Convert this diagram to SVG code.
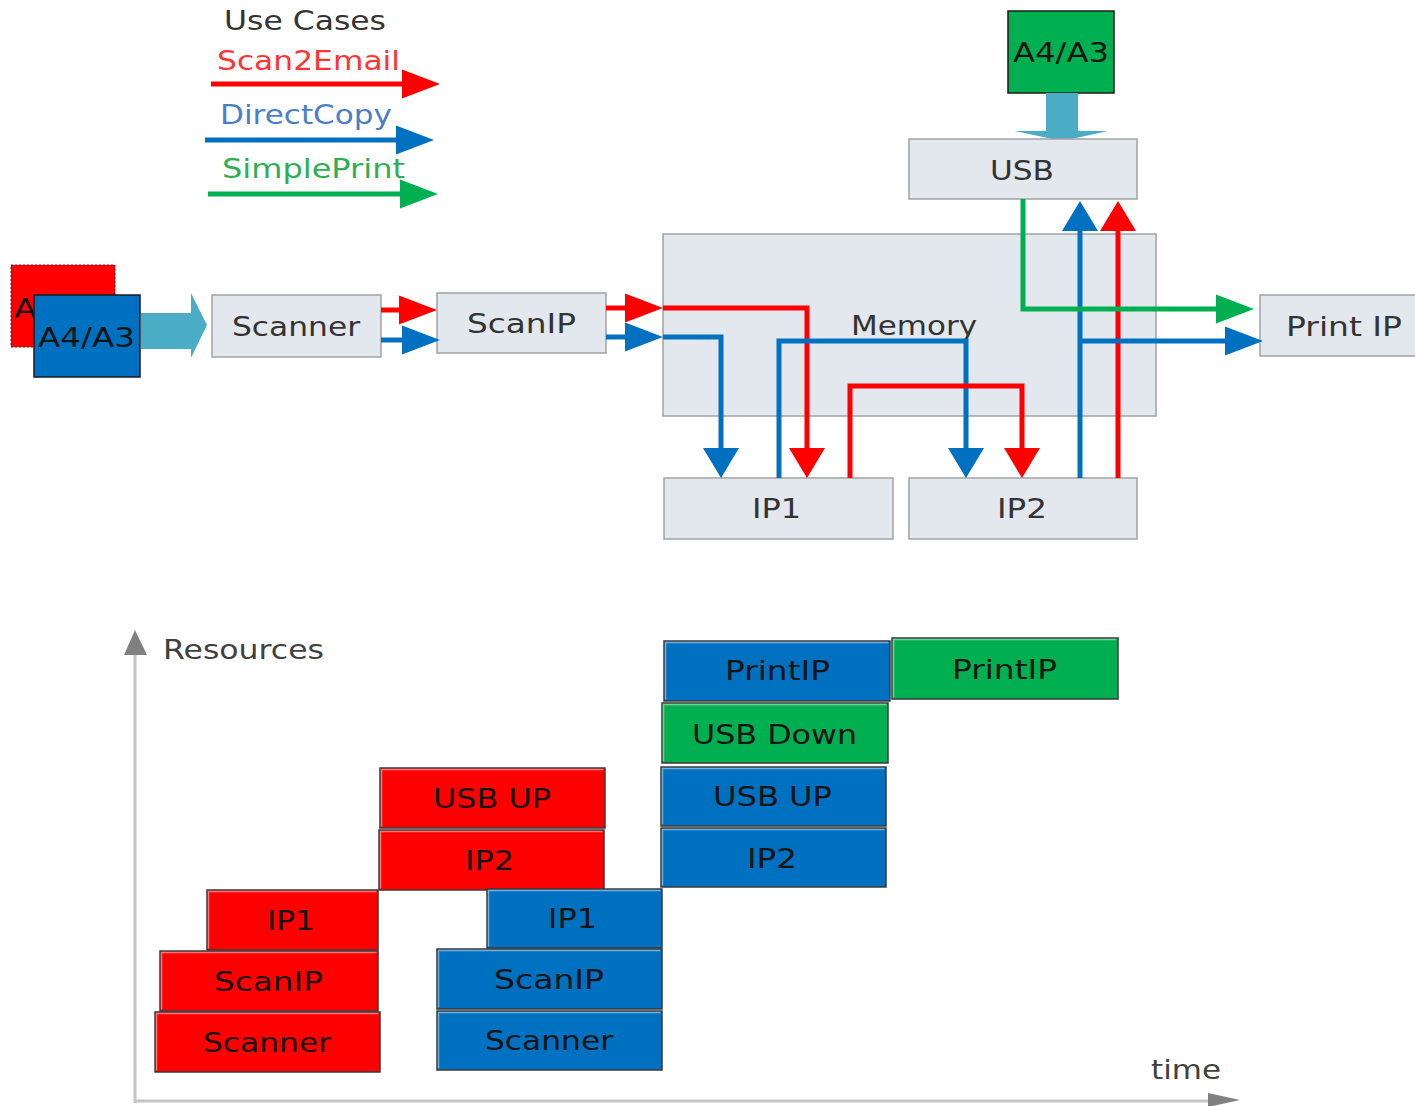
<svg xmlns="http://www.w3.org/2000/svg" width="1415" height="1106" viewBox="0 0 1415 1106">
  <style>
    text { font-family: "DejaVu Sans", Verdana, sans-serif; font-size: 27px; }
    .lbl { fill: #333333; }
    .dark { fill: #141414; }
    .box { fill: #E3E7EE; stroke: #A3A3A3; stroke-width: 1.5; }
    .conn { fill: none; stroke-width: 5; stroke-linejoin: miter; }
    .r { stroke: #FF0000; }
    .b { stroke: #0070C0; }
    .g { stroke: #00B050; }
    .bar { stroke: #3A3A3A; stroke-width: 1.5; }
    .fr { fill: #FF0000; }
    .fb { fill: #0070C0; }
    .fg { fill: #00B050; }
    .hl { fill: none; stroke: #FFFFFF; stroke-opacity: 0.45; stroke-width: 1.5; }
    .teal { fill: #4BACC6; }
  </style>
  <defs>
    <!-- horizontal-run arrowheads -->
    <marker id="hr" markerUnits="userSpaceOnUse" markerWidth="38" markerHeight="29" refX="2" refY="14.5" orient="auto" overflow="visible">
      <path d="M0,0 L38,14.5 L0,29 z" fill="#FF0000"/>
    </marker>
    <marker id="hb" markerUnits="userSpaceOnUse" markerWidth="38" markerHeight="29" refX="2" refY="14.5" orient="auto" overflow="visible">
      <path d="M0,0 L38,14.5 L0,29 z" fill="#0070C0"/>
    </marker>
    <marker id="hg" markerUnits="userSpaceOnUse" markerWidth="38" markerHeight="29" refX="2" refY="14.5" orient="auto" overflow="visible">
      <path d="M0,0 L38,14.5 L0,29 z" fill="#00B050"/>
    </marker>
    <!-- vertical-run arrowheads -->
    <marker id="vr" markerUnits="userSpaceOnUse" markerWidth="30" markerHeight="36" refX="2" refY="18" orient="auto" overflow="visible">
      <path d="M0,0 L30,18 L0,36 z" fill="#FF0000"/>
    </marker>
    <marker id="vb" markerUnits="userSpaceOnUse" markerWidth="30" markerHeight="36" refX="2" refY="18" orient="auto" overflow="visible">
      <path d="M0,0 L30,18 L0,36 z" fill="#0070C0"/>
    </marker>
  </defs>

  <!-- legend -->
  <g id="legend">
    <text class="lbl" x="224" y="30" textLength="162" lengthAdjust="spacingAndGlyphs">Use Cases</text>
    <text x="217" y="70" fill="#FF3535" textLength="183" lengthAdjust="spacingAndGlyphs">Scan2Email</text>
    <path class="conn r" d="M211,84 H404" marker-end="url(#hr)"/>
    <text x="220" y="124" fill="#4A7EC6" textLength="172" lengthAdjust="spacingAndGlyphs">DirectCopy</text>
    <path class="conn b" d="M205,140 H398" marker-end="url(#hb)"/>
    <text x="222" y="178" fill="#2EB052" textLength="183" lengthAdjust="spacingAndGlyphs">SimplePrint</text>
    <path class="conn g" d="M208,194 H402" marker-end="url(#hg)"/>
  </g>

  <!-- paper sources -->
  <g id="paper-red">
    <rect x="11" y="265" width="104" height="82" fill="#FF0000" stroke="#8B0000" stroke-width="1" stroke-dasharray="2,2"/>
    <text class="dark" x="14" y="318" textLength="97" lengthAdjust="spacingAndGlyphs">A4/A3</text>
  </g>
  <g id="paper-blue">
    <rect x="34" y="295" width="106" height="82" fill="#0070C0" stroke="#1A1A1A" stroke-width="1.5"/>
    <text class="dark" x="38" y="347" textLength="97" lengthAdjust="spacingAndGlyphs">A4/A3</text>
  </g>
  <g id="paper-green">
    <rect x="1008" y="11" width="106" height="82" fill="#00B050" stroke="#1A1A1A" stroke-width="1.5"/>
    <text class="dark" x="1013" y="62" textLength="96" lengthAdjust="spacingAndGlyphs">A4/A3</text>
  </g>

  <!-- block arrows feeding paper in -->
  <g id="feed-arrows">
    <polygon class="teal" points="141,313 191,313 191,293 207,325 191,358 191,349 141,349"/>
    <polygon class="teal" points="1046,93 1078,93 1078,131 1108,131 1062,141 1015,131 1046,131"/>
  </g>

  <!-- hardware blocks -->
  <g id="memory">
    <rect class="box" x="663" y="234" width="493" height="182"/>
    <text class="lbl" x="851" y="335" textLength="126" lengthAdjust="spacingAndGlyphs">Memory</text>
  </g>
  <g id="scanner">
    <rect class="box" x="212" y="295" width="169" height="62"/>
    <text class="lbl" x="232" y="336" textLength="128" lengthAdjust="spacingAndGlyphs">Scanner</text>
  </g>
  <g id="scanip">
    <rect class="box" x="437" y="293" width="169" height="60"/>
    <text class="lbl" x="467" y="333" textLength="109" lengthAdjust="spacingAndGlyphs">ScanIP</text>
  </g>
  <g id="usb">
    <rect class="box" x="909" y="139" width="228" height="60"/>
    <text class="lbl" x="990" y="180" textLength="64" lengthAdjust="spacingAndGlyphs">USB</text>
  </g>
  <g id="ip1">
    <rect class="box" x="664" y="478" width="229" height="61"/>
    <text class="lbl" x="752" y="518" textLength="49" lengthAdjust="spacingAndGlyphs">IP1</text>
  </g>
  <g id="ip2">
    <rect class="box" x="909" y="478" width="228" height="61"/>
    <text class="lbl" x="997" y="518" textLength="50" lengthAdjust="spacingAndGlyphs">IP2</text>
  </g>
  <g id="printip">
    <rect class="box" x="1260" y="295" width="170" height="61"/>
    <text class="lbl" x="1286" y="336" textLength="116" lengthAdjust="spacingAndGlyphs">Print IP</text>
  </g>

  <!-- data paths -->
  <g id="connectors">
    <path class="conn r" d="M381,310 H401" marker-end="url(#hr)"/>
    <path class="conn b" d="M381,340 H404" marker-end="url(#hb)"/>
    <path class="conn r" d="M606,308 H627" marker-end="url(#hr)"/>
    <path class="conn b" d="M606,337 H627" marker-end="url(#hb)"/>
    <path class="conn r" d="M663,308 H807 V450" marker-end="url(#vr)"/>
    <path class="conn b" d="M663,337 H721 V450" marker-end="url(#vb)"/>
    <path class="conn b" d="M779,478 V341 H966 V450" marker-end="url(#vb)"/>
    <path class="conn r" d="M850,478 V386 H1022 V450" marker-end="url(#vr)"/>
    <path class="conn b" d="M1080,478 V229" marker-end="url(#vb)"/>
    <path class="conn r" d="M1118,478 V229" marker-end="url(#vr)"/>
    <path class="conn b" d="M1080,341 H1227" marker-end="url(#hb)"/>
    <path class="conn g" d="M1023,199 V309 H1218" marker-end="url(#hg)"/>
  </g>

  <!-- timeline axes -->
  <g id="axes">
    <line x1="135" y1="652" x2="135" y2="1103" stroke="#C4C4C4" stroke-width="3"/>
    <polygon points="124,655 135,630 147,655" fill="#808080"/>
    <line x1="134" y1="1101" x2="1210" y2="1101" stroke="#C4C4C4" stroke-width="3"/>
    <polygon points="1208,1093 1240,1100 1208,1107" fill="#808080"/>
    <text x="163" y="659" fill="#404040" textLength="161" lengthAdjust="spacingAndGlyphs">Resources</text>
    <text x="1151" y="1079" fill="#404040" textLength="70" lengthAdjust="spacingAndGlyphs">time</text>
  </g>

  <!-- Scan2Email resource usage -->
  <g id="bar-red-scanner">
    <rect class="bar fr" x="155" y="1012" width="225" height="60"/>
    <path class="hl" d="M156.5,1070.5 V1013.5 H378.5"/>
    <text class="dark" x="203" y="1052" textLength="128" lengthAdjust="spacingAndGlyphs">Scanner</text>
  </g>
  <g id="bar-red-scanip">
    <rect class="bar fr" x="160" y="951" width="218" height="60"/>
    <path class="hl" d="M161.5,1009.5 V952.5 H376.5"/>
    <text class="dark" x="214" y="991" textLength="109" lengthAdjust="spacingAndGlyphs">ScanIP</text>
  </g>
  <g id="bar-red-ip1">
    <rect class="bar fr" x="207" y="890" width="171" height="60"/>
    <path class="hl" d="M208.5,948.5 V891.5 H376.5"/>
    <text class="dark" x="267" y="930" textLength="48" lengthAdjust="spacingAndGlyphs">IP1</text>
  </g>
  <g id="bar-red-ip2">
    <rect class="bar fr" x="379" y="830" width="225" height="60"/>
    <path class="hl" d="M380.5,888.5 V831.5 H602.5"/>
    <text class="dark" x="465" y="870" textLength="49" lengthAdjust="spacingAndGlyphs">IP2</text>
  </g>
  <g id="bar-red-usbup">
    <rect class="bar fr" x="380" y="768" width="225" height="60"/>
    <path class="hl" d="M381.5,826.5 V769.5 H603.5"/>
    <text class="dark" x="433" y="808" textLength="118" lengthAdjust="spacingAndGlyphs">USB UP</text>
  </g>

  <!-- DirectCopy resource usage -->
  <g id="bar-blue-scanner">
    <rect class="bar fb" x="437" y="1011" width="225" height="59"/>
    <path class="hl" d="M438.5,1068.5 V1012.5 H660.5"/>
    <text class="dark" x="485" y="1050" textLength="128" lengthAdjust="spacingAndGlyphs">Scanner</text>
  </g>
  <g id="bar-blue-scanip">
    <rect class="bar fb" x="437" y="949" width="225" height="60"/>
    <path class="hl" d="M438.5,1007.5 V950.5 H660.5"/>
    <text class="dark" x="494" y="989" textLength="110" lengthAdjust="spacingAndGlyphs">ScanIP</text>
  </g>
  <g id="bar-blue-ip1">
    <rect class="bar fb" x="487" y="889" width="175" height="59"/>
    <path class="hl" d="M488.5,946.5 V890.5 H660.5"/>
    <text class="dark" x="548" y="928" textLength="49" lengthAdjust="spacingAndGlyphs">IP1</text>
  </g>
  <g id="bar-blue-ip2">
    <rect class="bar fb" x="661" y="828" width="225" height="59"/>
    <path class="hl" d="M662.5,885.5 V829.5 H884.5"/>
    <text class="dark" x="747" y="868" textLength="50" lengthAdjust="spacingAndGlyphs">IP2</text>
  </g>
  <g id="bar-blue-usbup">
    <rect class="bar fb" x="661" y="767" width="225" height="59"/>
    <path class="hl" d="M662.5,824.5 V768.5 H884.5"/>
    <text class="dark" x="713" y="806" textLength="119" lengthAdjust="spacingAndGlyphs">USB UP</text>
  </g>
  <g id="bar-blue-printip">
    <rect class="bar fb" x="664" y="641" width="226" height="60"/>
    <path class="hl" d="M665.5,699.5 V642.5 H888.5"/>
    <text class="dark" x="725" y="680" textLength="105" lengthAdjust="spacingAndGlyphs">PrintIP</text>
  </g>

  <!-- SimplePrint resource usage -->
  <g id="bar-green-usbdown">
    <rect class="bar fg" x="662" y="703" width="226" height="60"/>
    <path class="hl" d="M663.5,761.5 V704.5 H886.5"/>
    <text class="dark" x="692" y="744" textLength="165" lengthAdjust="spacingAndGlyphs">USB Down</text>
  </g>
  <g id="bar-green-printip">
    <rect class="bar fg" x="892" y="638" width="226" height="61"/>
    <path class="hl" d="M893.5,697.5 V639.5 H1116.5"/>
    <text class="dark" x="952" y="679" textLength="105" lengthAdjust="spacingAndGlyphs">PrintIP</text>
  </g>
</svg>
